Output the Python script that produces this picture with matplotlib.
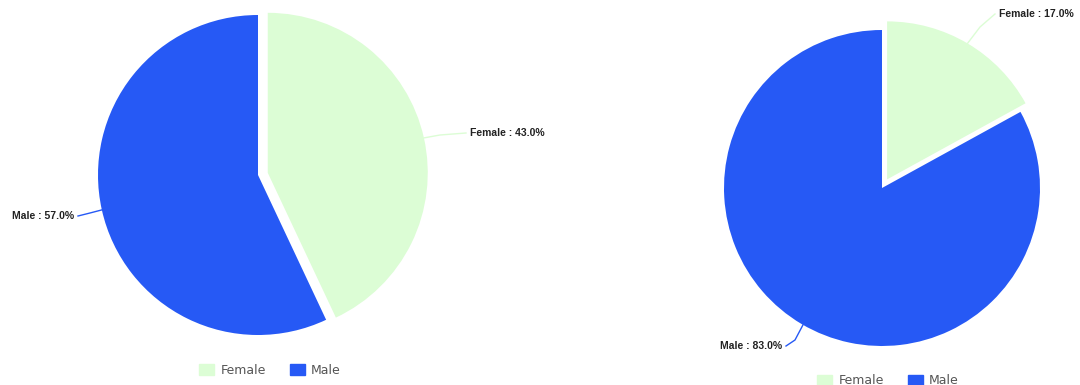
import matplotlib.pyplot as plt
import numpy as np
from matplotlib.patches import Patch

# data
categories = ["Female", "Male"]
left_values = [43.0, 57.0]
right_values = [17.0, 83.0]

COLORS = ["#DCFDD5", "#2659F5"]
W, H = 1080, 385

fig = plt.figure(figsize=(W / 100, H / 100), dpi=100)
ax = fig.add_axes([0, 0, 1, 1])


def draw_pie(values, center, radius, offset, label_spec):
    # explode in matplotlib is an absolute shift in data units
    explode = [offset, 0.0]
    wedges, _ = ax.pie(values, colors=COLORS, startangle=90, counterclock=False,
                       explode=explode, center=center, radius=radius,
                       wedgeprops=dict(linewidth=0), frame=True)
    for w, name, val, (ang, elbow, txt, ha) in zip(wedges, categories, values, label_spec):
        cx, cy = w.center
        a = np.deg2rad(ang)
        p0 = (cx + radius * np.cos(a), cy + radius * np.sin(a))
        ax.plot([p0[0], elbow[0], txt[0] + (-4 if ha == "left" else 4)],
                [p0[1], elbow[1], txt[1]], color=w.get_facecolor(), lw=1)
        ax.text(txt[0], txt[1], f"{name} : {val:.1f}%", ha=ha, va="center",
                fontsize=7.5, fontweight="bold", color="#222222",
                family="Liberation Sans")


# label spec: (angle on wedge, elbow point, text anchor, alignment) - layout only
draw_pie(left_values, (258, 210), 160, 10,
         [(12.6, (440, 250), (470, 252), "left"),
          (192.6, (90, 172), (74, 169), "right")])
draw_pie(right_values, (882, 197), 158, 10,
         [(59.4, (980, 358), (999, 371), "left"),
          (240, (795, 45), (782, 39), "right")])

ax.set_xlim(0, W)
ax.set_ylim(0, H)
ax.set_aspect("equal")
ax.axis("off")

handles = [Patch(color=c) for c in COLORS]
for x, y in [(270 / W, 15 / H), (888 / W, 4 / H)]:
    fig.legend(handles, categories, loc="center", bbox_to_anchor=(x, y), ncol=2,
               frameon=False, fontsize=9, handlelength=1.2, handleheight=1.0,
               columnspacing=1.9, handletextpad=0.5, labelcolor="#555555")

fig.savefig("out.png", dpi=100)
